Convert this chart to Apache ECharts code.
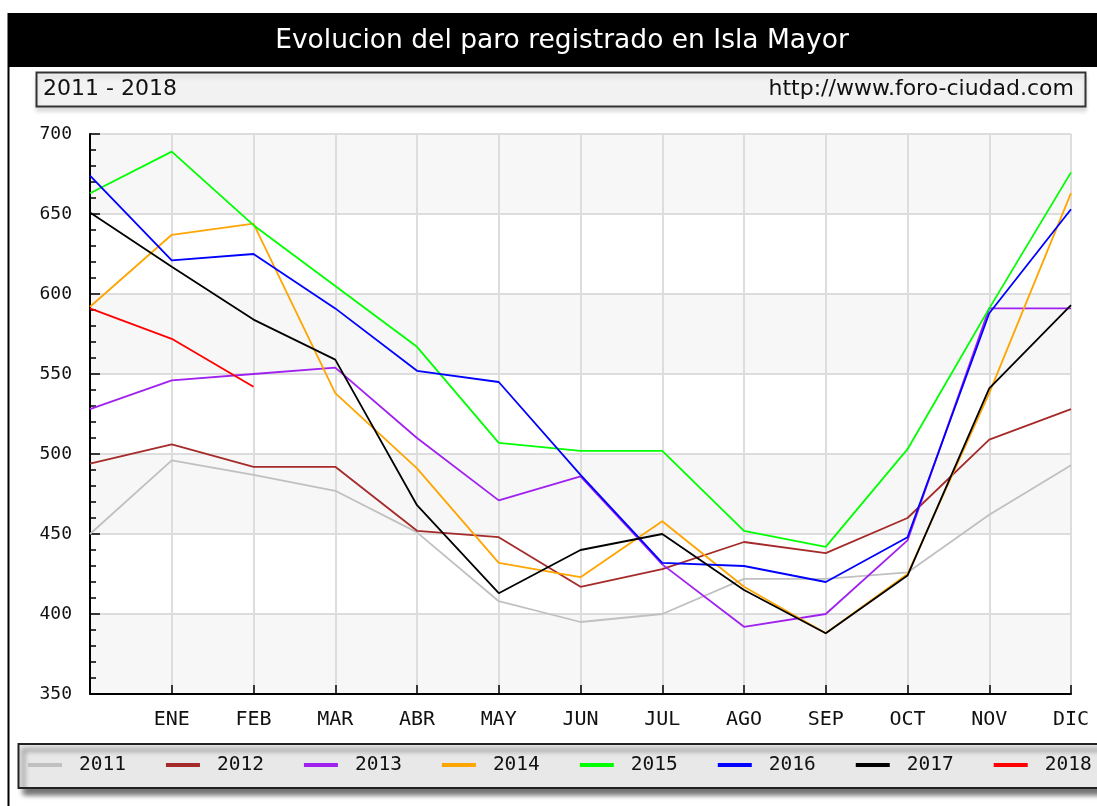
<!DOCTYPE html>
<html>
<head>
<meta charset="utf-8">
<script src="https://cdn.jsdelivr.net/npm/echarts@6/dist/echarts.min.js"></script>
<style>
  html, body { margin: 0; padding: 0; background: #fff; }
  #main { width: 1097px; height: 806px; }
</style>
</head>
<body>
<div id="main"></div>
<script>
// first slot is the previous December, unlabeled
const months = ['', 'ENE', 'FEB', 'MAR', 'ABR', 'MAY', 'JUN', 'JUL', 'AGO', 'SEP', 'OCT', 'NOV', 'DIC']
const years = ['2011', '2012', '2013', '2014', '2015', '2016', '2017', '2018']
const colors = ['#c0c0c0', '#a52a2a', '#a020f0', '#ffa500', '#00ff00', '#0000ff', '#000000', '#ff0000']

const y2011 = [450, 496, 487, 477, 451, 408, 395, 400, 422, 422, 426, 462, 493]
const y2012 = [494, 506, 492, 492, 452, 448, 417, 428, 445, 438, 460, 509, 528]
const y2013 = [528, 546, 550, 554, 510, 471, 486, 431, 392, 400, 446, 591, 591]
const y2014 = [592, 637, 644, 538, 491, 432, 423, 458, 417, 388, 425, 538, 663]
const y2015 = [663, 689, 643, 605, 567, 507, 502, 502, 452, 442, 503, 591, 676]
const y2016 = [674, 621, 625, 591, 552, 545, 487, 432, 430, 420, 448, 588, 653]
const y2017 = [651, 617, 584, 559, 468, 413, 440, 450, 415, 388, 424, 541, 593]
const y2018 = [591, 572, 542]

const values = [y2011, y2012, y2013, y2014, y2015, y2016, y2017, y2018]

const chart = echarts.init(document.getElementById('main'))
const mono = 'DejaVu Sans Mono'

const option = {
  animation: false,
  backgroundColor: '#fff',
  color: colors,
  graphic: [
    { type: 'rect', z: -10, shape: { x: 8, y: 13, width: 1089, height: 54 }, style: { fill: '#000' } },
    { type: 'line', z: -10, shape: { x1: 8.5, y1: 13, x2: 8.5, y2: 806 }, style: { stroke: '#000', lineWidth: 2 } },
    {
      type: 'text', x: 562, y: 41,
      style: { text: 'Evolucion del paro registrado en Isla Mayor', fill: '#fff', font: '26.5px "DejaVu Sans"', textAlign: 'center', textVerticalAlign: 'middle' }
    },
    {
      type: 'rect', z: -10, shape: { x: 36.5, y: 72.5, width: 1049, height: 34 },
      style: { fill: '#f2f2f2', stroke: '#333', lineWidth: 2, shadowBlur: 4, shadowOffsetY: 4, shadowColor: 'rgba(0,0,0,0.12)' }
    },
    {
      type: 'text', x: 43, y: 89,
      style: { text: '2011 - 2018', fill: '#111', font: '22px "DejaVu Sans"', textAlign: 'left', textVerticalAlign: 'middle' }
    },
    {
      type: 'text', x: 1074, y: 89,
      style: { text: 'http://www.foro-ciudad.com', fill: '#111', font: '22px "DejaVu Sans"', textAlign: 'right', textVerticalAlign: 'middle' }
    },
    {
      type: 'rect', z: -10, shape: { x: 18.5, y: 744, width: 1100, height: 44 },
      style: { fill: '#e8e8e8', stroke: '#222', lineWidth: 2, shadowBlur: 5, shadowOffsetX: 5, shadowOffsetY: 6, shadowColor: 'rgba(0,0,0,0.55)' }
    }
  ],
  legend: {
    left: 28,
    top: 755,
    padding: 0,
    itemGap: 40,
    itemWidth: 34,
    itemHeight: 4,
    icon: 'rect',
    data: years,
    textStyle: { fontFamily: mono, fontSize: 19.5, color: '#111', lineHeight: 20, padding: [0, 0, 0, 12] }
  },
  grid: { left: 90, right: 26, top: 134, bottom: 112 },
  xAxis: {
    type: 'category',
    boundaryGap: false,
    data: months,
    axisLine: { lineStyle: { color: '#000', width: 2 } },
    axisTick: { inside: true, length: 9, lineStyle: { color: '#000', width: 1.5 } },
    axisLabel: { margin: 16, fontFamily: mono, fontSize: 20, color: '#111' },
    splitLine: { show: true, lineStyle: { color: '#dddddd', width: 2 } }
  },
  yAxis: {
    type: 'value',
    min: 350,
    max: 700,
    interval: 50,
    axisLine: { show: true, lineStyle: { color: '#000', width: 2 } },
    axisTick: { show: true, inside: true, length: 10, lineStyle: { color: '#000', width: 1.5 } },
    minorTick: { show: true, splitNumber: 5, length: 6, lineStyle: { color: '#000', width: 1.5 } },
    axisLabel: { margin: 18, fontFamily: mono, fontSize: 18, color: '#111' },
    splitLine: { lineStyle: { color: '#dddddd', width: 2 } },
    splitArea: { show: true, areaStyle: { color: ['#f7f7f7', '#ffffff'] } }
  },
  series: years.map((name, i) => ({
    name: name,
    type: 'line',
    data: values[i],
    symbol: 'none',
    lineStyle: { width: 1.8, color: colors[i] },
    itemStyle: { color: colors[i] }
  }))
}

chart.setOption(option)
</script>
</body>
</html>
